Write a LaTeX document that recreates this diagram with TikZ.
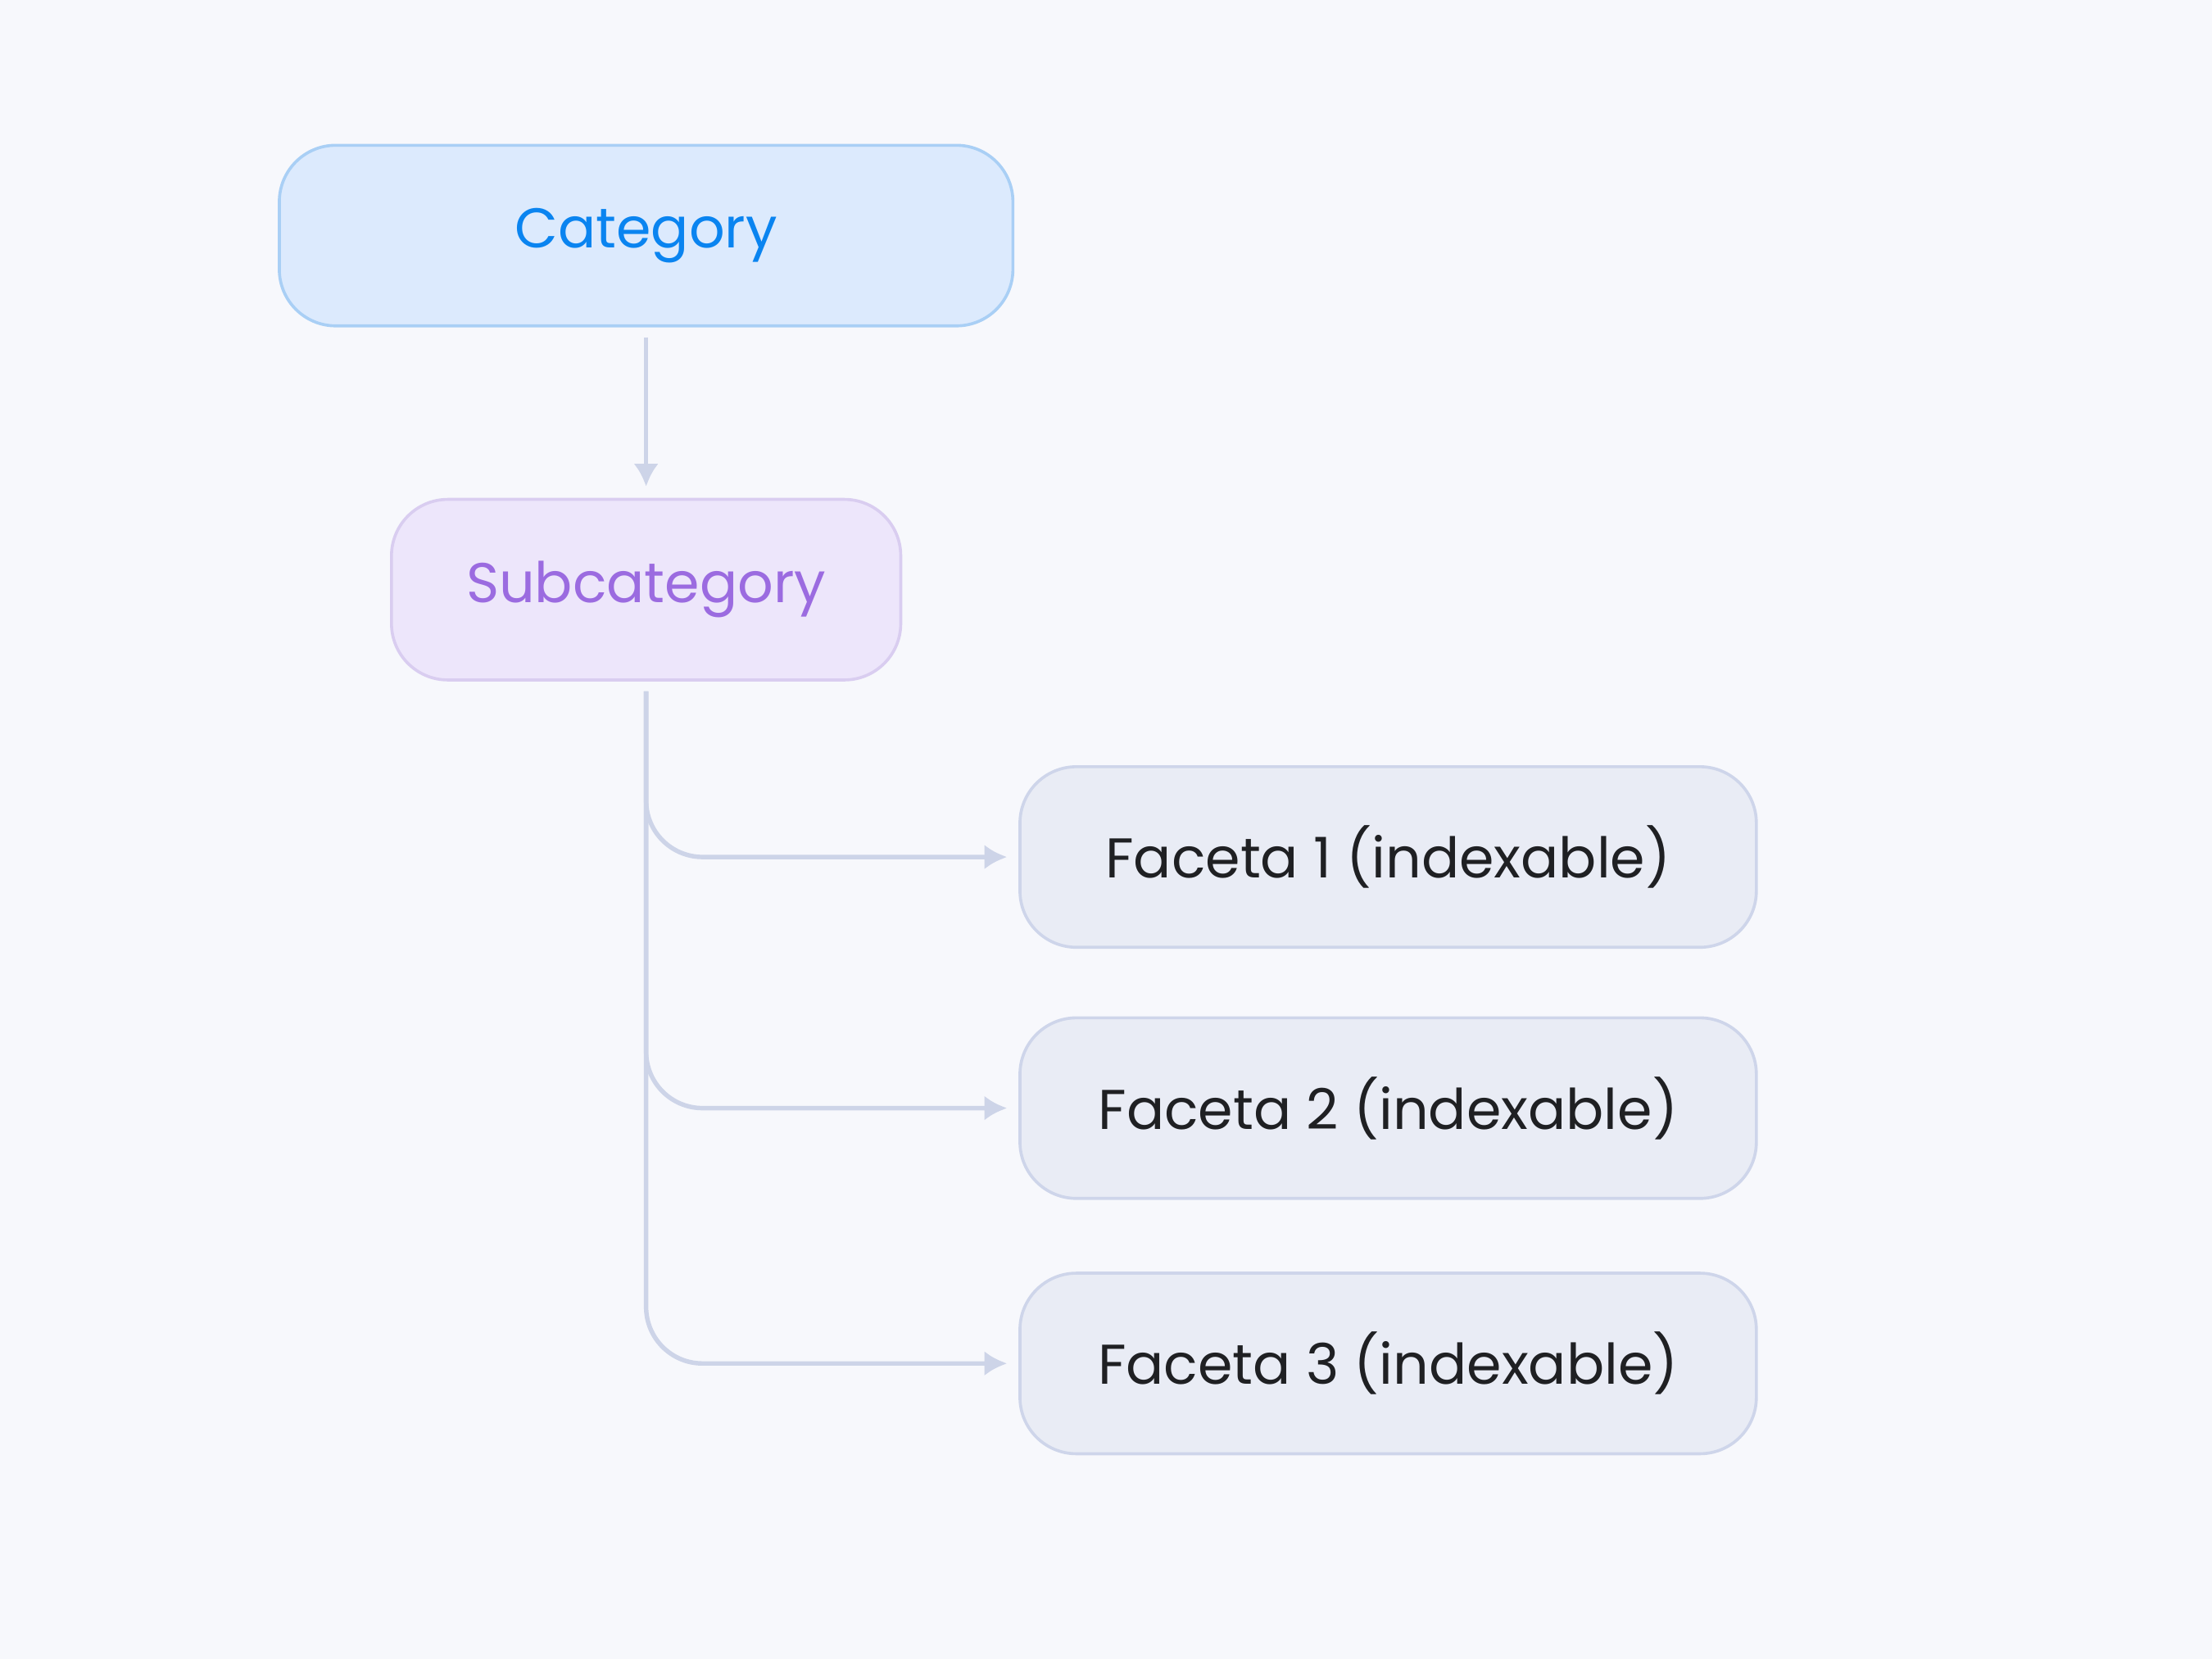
\documentclass[tikz,border=0pt]{standalone}
\usepackage{fontspec}
\setmainfont{Poppins}
\usetikzlibrary{shapes,arrows.meta}

\definecolor{pagebg}{HTML}{F7F8FC}
\definecolor{catfill}{HTML}{DCEAFD}
\definecolor{catline}{HTML}{A9CFF5}
\definecolor{cattext}{HTML}{0A84F0}
\definecolor{subfill}{HTML}{EDE6FB}
\definecolor{subline}{HTML}{D9CDF0}
\definecolor{subtext}{HTML}{9B6BE0}
\definecolor{facetfill}{HTML}{E9ECF5}
\definecolor{facetline}{HTML}{CED5EA}
\definecolor{facettext}{HTML}{1F2023}
\definecolor{linkcol}{HTML}{CDD4E8}

\begin{document}
\begin{tikzpicture}
		\tikzstyle {box} = [rounded corners=0.4cm, line width=0.6pt, minimum height=1.28cm, inner sep=0pt, font=\fontsize{11.3}{13}\selectfont]
		\tikzstyle {cat box} = [box, draw=catline, fill=catfill, text=cattext, minimum width=5.2cm]
		\tikzstyle {sub box} = [box, draw=subline, fill=subfill, text=subtext, minimum width=3.61cm]
		\tikzstyle {facet box} = [box, draw=facetline, fill=facetfill, text=facettext, minimum width=5.22cm]
		\tikzstyle {link} = [-{Latex[length=4.6pt,width=5pt]}, line width=0.9pt, color=linkcol]

		\fill[pagebg] (0,0) rectangle (15.68,-11.76);

		\node[cat box] (cat) at (4.58,-1.67) {Category};
		\node[sub box] (sub) at (4.58,-4.18) {Subcategory};

		\node[facet box] (f1) at (9.84,-6.075) {Faceta 1 (indexable)};
		\node[facet box] (f2) at (9.84,-7.855) {Faceta 2 (indexable)};
		\node[facet box] (f3) at (9.84,-9.665) {Faceta 3 (indexable)};

		\draw[link] ([yshift=-0.07cm]cat.south) -- ([yshift=0.08cm]sub.north);

		\foreach \f in {f1,f2,f3}
			\draw[link, rounded corners=0.4cm] ([yshift=-0.07cm]sub.south) |- ([xshift=-0.08cm]\f.west);
\end{tikzpicture}
\end{document}
